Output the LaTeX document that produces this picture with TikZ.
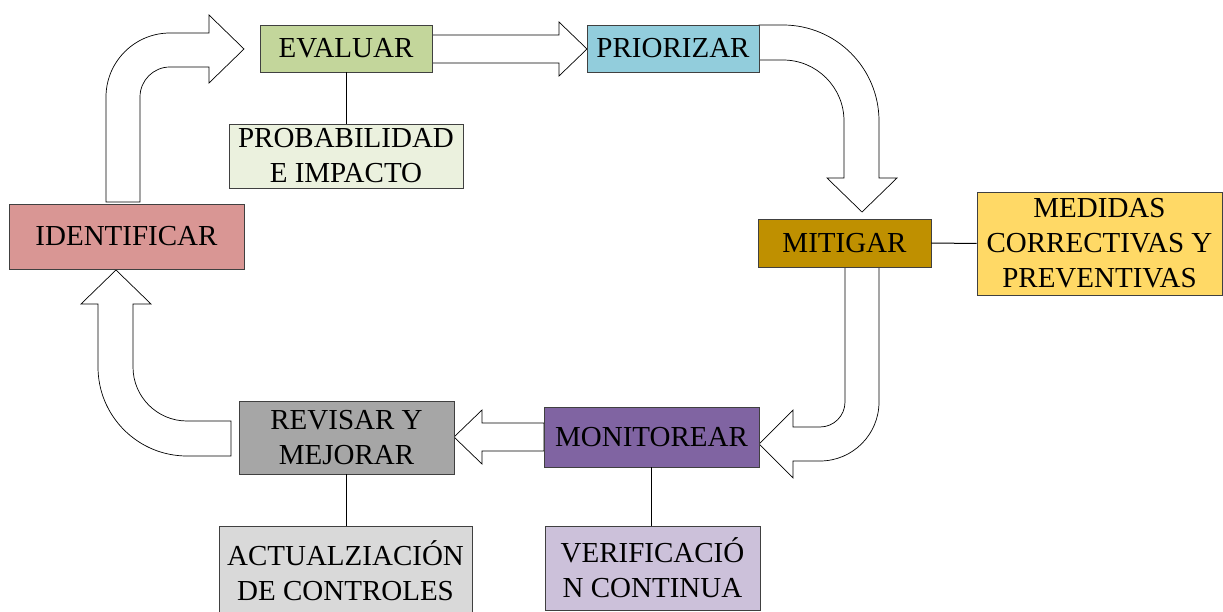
\documentclass[tikz,border=0pt]{standalone}
\usepackage{fontspec}
\setmainfont{Liberation Serif}
\definecolor{evalc}{HTML}{C3D69B}
\definecolor{prioc}{HTML}{92CDDC}
\definecolor{probc}{HTML}{EBF1DE}
\definecolor{identc}{HTML}{D99694}
\definecolor{mitc}{HTML}{BF9000}
\definecolor{medc}{HTML}{FFD966}
\definecolor{revc}{HTML}{A6A6A6}
\definecolor{monc}{HTML}{8064A2}
\definecolor{actc}{HTML}{D9D9D9}
\definecolor{verc}{HTML}{CCC1DA}
\tikzset{
  box/.style={draw=black!75, line width=0.8pt, inner sep=0pt, align=center,
    font=\fontsize{29}{35}\selectfont},
  blockarrow/.style={draw=black, fill=white, line width=0.7pt, line join=miter},
  link/.style={draw=black, line width=1pt}
}
\begin{document}
\begin{tikzpicture}[x=1pt,y=-1pt]
\clip (0,0) rectangle (1223,612);
\fill[white] (0,0) rectangle (1223,612);
% block arrows
% IDENTIFICAR -> EVALUAR
\draw[blockarrow] (106,202) -- (106,97) .. controls (106,61.65) and (134.65,33) .. (170,33)
  -- (209,33) -- (209,15) -- (244,49) -- (209,83) -- (209,67) -- (170,67)
  .. controls (153.43,67) and (140,80.43) .. (140,97) -- (140,202) -- cycle;
% EVALUAR -> PRIORIZAR
\draw[blockarrow] (432,35) -- (559,35) -- (559,22) -- (587,49) -- (559,76) -- (559,63) -- (432,63) -- cycle;
% PRIORIZAR -> MITIGAR
\draw[blockarrow] (759,25) -- (783,25) .. controls (836.02,25) and (879,67.98) .. (879,121)
  -- (879,178) -- (897,178) -- (862,212) -- (827,178) -- (844,178) -- (844,121)
  .. controls (844,87.31) and (816.69,60) .. (783,60) -- (759,60) -- cycle;
% MITIGAR -> MONITOREAR
\draw[blockarrow] (845,267) -- (845,402) .. controls (845,415.81) and (833.81,427) .. (820,427)
  -- (793,427) -- (793,410) -- (759,444) -- (793,478) -- (793,461) -- (820,461)
  .. controls (852.59,461) and (879,434.59) .. (879,402) -- (879,267) -- cycle;
% MONITOREAR -> REVISAR
\draw[blockarrow] (544,423) -- (482,423) -- (482,410) -- (454,437) -- (482,464) -- (482,451) -- (544,451) -- cycle;
% REVISAR -> IDENTIFICAR
\draw[blockarrow] (231,421) -- (187,421) .. controls (157.18,421) and (133,396.82) .. (133,367)
  -- (133,304) -- (151,304) -- (116,270) -- (81,304) -- (98,304) -- (98,367)
  .. controls (98,416.15) and (137.85,456) .. (187,456) -- (231,456) -- cycle;
% boxes
\node[box, fill=evalc, minimum width=172pt, minimum height=47pt] (eval) at (346,48.5) {EVALUAR};
\node[box, fill=prioc, minimum width=172pt, minimum height=47pt] (prio) at (673,48.5) {PRIORIZAR};
\node[box, fill=probc, minimum width=234pt, minimum height=64pt] (prob) at (346,156) {PROBABILIDAD\\E IMPACTO};
\node[box, fill=identc, minimum width=235pt, minimum height=65pt] (ident) at (126.5,236.5) {IDENTIFICAR};
\node[box, fill=mitc, minimum width=173pt, minimum height=48pt] (mit) at (844.5,243) {MITIGAR};
\node[box, fill=medc, minimum width=245pt, minimum height=103pt] (med) at (1099.5,243.5) {MEDIDAS\\CORRECTIVAS Y\\PREVENTIVAS};
\node[box, fill=revc, minimum width=215pt, minimum height=73pt] (rev) at (346.5,437.5) {REVISAR Y\\MEJORAR};
\node[box, fill=monc, minimum width=215pt, minimum height=60pt] (mon) at (651.5,437) {MONITOREAR};
\node[box, fill=actc, minimum width=253pt, minimum height=90pt] (act) at (345.5,571) {ACTUALZIACIÓN\\DE CONTROLES};
\node[box, fill=verc, minimum width=215pt, minimum height=84pt] (ver) at (652.5,568) {VERIFICACIÓ\\N CONTINUA};
% connectors
\draw[link] (eval.south) -- (prob.north);
\draw[link] (mit.east) -- (med.west);
\draw[link] (rev.south) -- (rev.south |- act.north);
\draw[link] (mon.south) -- (mon.south |- ver.north);
\end{tikzpicture}
\end{document}
